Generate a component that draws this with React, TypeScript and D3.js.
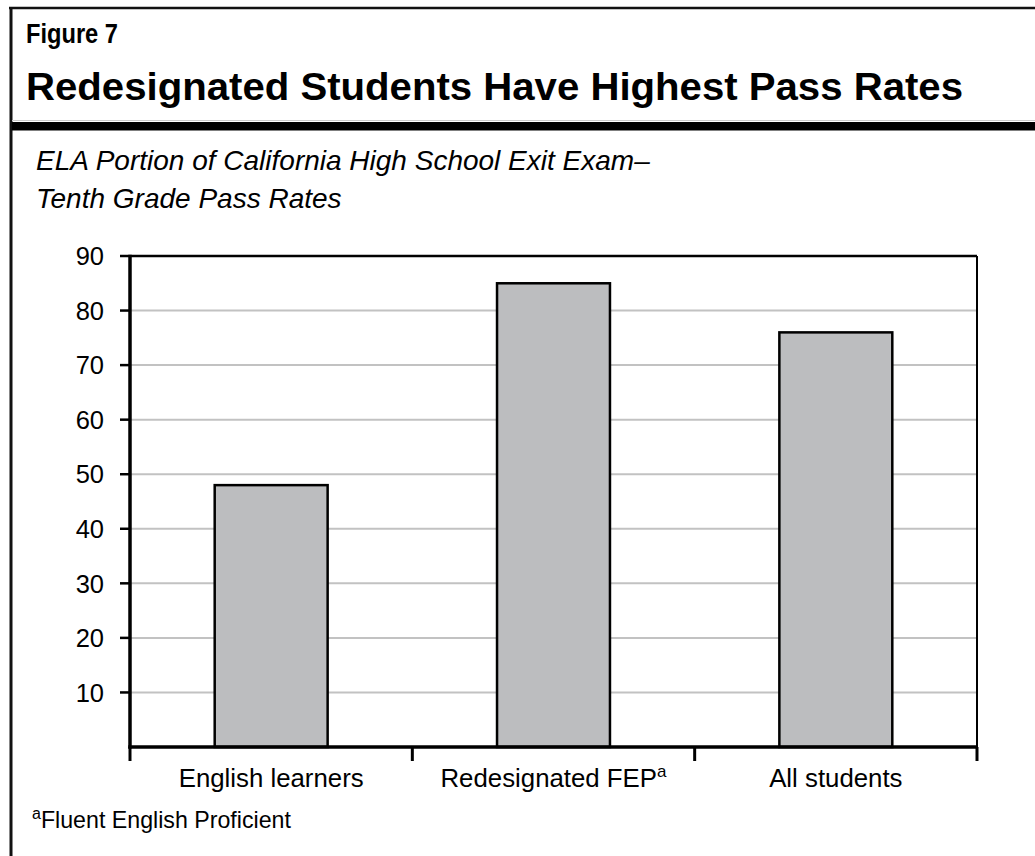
import React from "react";
import * as d3 from "d3";

const categories = ["English learners", "Redesignated FEP", "All students"];
const superscripts = ["", "a", ""];
const values = [48, 85, 76];
const yTicks = [10, 20, 30, 40, 50, 60, 70, 80, 90];
const figureLabel = "Figure 7";
const title = "Redesignated Students Have Highest Pass Rates";
const subtitleLines = ["ELA Portion of California High School Exit Exam\u2013", "Tenth Grade Pass Rates"];
const footnote = "Fluent English Proficient";

const W = 1035;
const H = 856;
const plot = { left: 130, right: 977, top: 256, bottom: 747 };
const FONT = "'Liberation Sans', Arial, Helvetica, sans-serif";

export default function App() {
  const x = d3.scaleBand<string>().domain(categories).range([plot.left, plot.right]).padding(0);
  const y = d3.scaleLinear().domain([0, 90]).range([plot.bottom, plot.top]);
  const barW = x.bandwidth() * 0.4;
  const boundaries = [plot.left, ...categories.map((c) => (x(c) as number) + x.bandwidth())];

  return (
    <svg width={W} height={H} style={{ position: "absolute", left: 0, top: 0, background: "#fff" }} fontFamily={FONT}>
      {/* frame */}
      <line x1={9} x2={W} y1={8} y2={8} stroke="#111" strokeWidth={2.5} />
      <line x1={11} x2={11} y1={7} y2={H} stroke="#111" strokeWidth={3} />
      <line x1={12} x2={W} y1={120.5} y2={120.5} stroke="#ccc" strokeWidth={1} />
      <rect x={12} y={122} width={W - 12} height={8.5} fill="#000" />

      <text x={26} y={43} fontSize={27.5} fontWeight="bold" fill="#000" textLength={92} lengthAdjust="spacingAndGlyphs">{figureLabel}</text>
      <text x={26} y={100} fontSize={38} fontWeight="bold" fill="#000" textLength={937} lengthAdjust="spacingAndGlyphs">{title}</text>
      {subtitleLines.map((s, i) => (
        <text key={i} x={36} y={170 + i * 38} fontSize={28} fontStyle="italic" fill="#000">{s}</text>
      ))}

      {/* gridlines */}
      {yTicks.filter((t) => t < 90).map((t) => (
        <line key={t} x1={plot.left} x2={plot.right} y1={y(t)} y2={y(t)} stroke="#c2c2c2" strokeWidth={2} />
      ))}

      {/* bars */}
      {categories.map((c, i) => {
        const cx = (x(c) as number) + x.bandwidth() / 2;
        return (
          <rect key={c} x={cx - barW / 2} y={y(values[i])} width={barW} height={plot.bottom - y(values[i])}
            fill="#bcbdbf" stroke="#000" strokeWidth={2.5} />
        );
      })}

      {/* plot frame */}
      <line x1={plot.left} x2={plot.right} y1={plot.top} y2={plot.top} stroke="#000" strokeWidth={2.7} />
      <line x1={plot.right} x2={plot.right} y1={plot.top} y2={plot.bottom} stroke="#000" strokeWidth={2} />
      <line x1={plot.left} x2={plot.left} y1={plot.top - 1.3} y2={plot.bottom + 1.5} stroke="#000" strokeWidth={3.5} />
      <line x1={plot.left - 1.7} x2={plot.right + 1} y1={plot.bottom} y2={plot.bottom} stroke="#000" strokeWidth={3.5} />

      {/* y ticks */}
      {yTicks.map((t) => (
        <g key={t}>
          <line x1={plot.left - 10} x2={plot.left} y1={y(t)} y2={y(t)} stroke="#000" strokeWidth={2.5} />
          <text x={104} y={y(t)} dy="0.36em" textAnchor="end" fontSize={25.5} fill="#000">{t}</text>
        </g>
      ))}

      {/* x ticks */}
      {boundaries.map((b, i) => (
        <line key={i} x1={b} x2={b} y1={plot.bottom} y2={plot.bottom + 14} stroke="#000" strokeWidth={3} />
      ))}
      {categories.map((c, i) => (
        <text key={c} x={(x(c) as number) + x.bandwidth() / 2} y={787} textAnchor="middle" fontSize={25.8} fill="#000">
          {c}
          {superscripts[i] && <tspan fontSize={17} dy={-10}>{superscripts[i]}</tspan>}
        </text>
      ))}

      {/* footnote */}
      <text x={32} y={828} fontSize={23.2} fill="#000">
        <tspan fontSize={16} dy={-9}>a</tspan>
        <tspan dy={9}>{footnote}</tspan>
      </text>
    </svg>
  );
}
